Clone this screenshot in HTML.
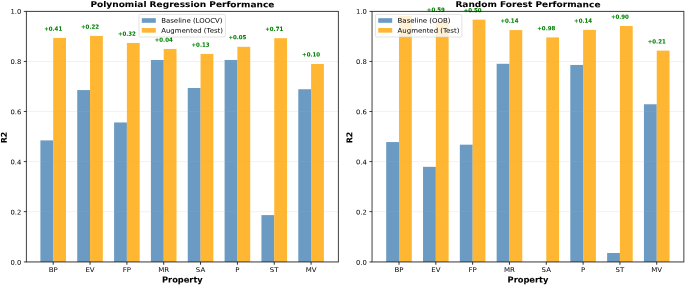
<!DOCTYPE html>
<html><head><meta charset="utf-8"><title>chart</title>
<style>html,body{margin:0;padding:0;background:#fff}svg{display:block}</style></head>
<body>
<svg width="685" height="285" viewBox="0 0 685 285" text-rendering="geometricPrecision" font-family='"DejaVu Sans","Liberation Sans",sans-serif'>
<rect width="685" height="285" fill="#fff"/>
<rect x="40.40" y="140.40" width="12.80" height="121.55" fill="#4682b4" fill-opacity="0.8"/>
<rect x="53.20" y="37.93" width="12.80" height="224.02" fill="#ffa500" fill-opacity="0.8"/>
<rect x="77.24" y="90.07" width="12.80" height="171.88" fill="#4682b4" fill-opacity="0.8"/>
<rect x="90.04" y="35.93" width="12.80" height="226.02" fill="#ffa500" fill-opacity="0.8"/>
<rect x="114.08" y="122.46" width="12.80" height="139.49" fill="#4682b4" fill-opacity="0.8"/>
<rect x="126.88" y="42.94" width="12.80" height="219.01" fill="#ffa500" fill-opacity="0.8"/>
<rect x="150.92" y="59.96" width="12.80" height="201.99" fill="#4682b4" fill-opacity="0.8"/>
<rect x="163.72" y="48.95" width="12.80" height="213.00" fill="#ffa500" fill-opacity="0.8"/>
<rect x="187.76" y="87.99" width="12.80" height="173.96" fill="#4682b4" fill-opacity="0.8"/>
<rect x="200.56" y="53.95" width="12.80" height="208.00" fill="#ffa500" fill-opacity="0.8"/>
<rect x="224.60" y="59.96" width="12.80" height="201.99" fill="#4682b4" fill-opacity="0.8"/>
<rect x="237.40" y="46.82" width="12.80" height="215.13" fill="#ffa500" fill-opacity="0.8"/>
<rect x="261.44" y="215.09" width="12.80" height="46.86" fill="#4682b4" fill-opacity="0.8"/>
<rect x="274.24" y="38.18" width="12.80" height="223.77" fill="#ffa500" fill-opacity="0.8"/>
<rect x="298.28" y="89.24" width="12.80" height="172.71" fill="#4682b4" fill-opacity="0.8"/>
<rect x="311.08" y="63.96" width="12.80" height="197.99" fill="#ffa500" fill-opacity="0.8"/>
<line x1="26.4" x2="338.4" y1="261.70" y2="261.70" stroke="#b0b0b0" stroke-opacity="0.3" stroke-width="0.55"/>
<line x1="26.4" x2="338.4" y1="211.64" y2="211.64" stroke="#b0b0b0" stroke-opacity="0.3" stroke-width="0.55"/>
<line x1="26.4" x2="338.4" y1="161.58" y2="161.58" stroke="#b0b0b0" stroke-opacity="0.3" stroke-width="0.55"/>
<line x1="26.4" x2="338.4" y1="111.52" y2="111.52" stroke="#b0b0b0" stroke-opacity="0.3" stroke-width="0.55"/>
<line x1="26.4" x2="338.4" y1="61.46" y2="61.46" stroke="#b0b0b0" stroke-opacity="0.3" stroke-width="0.55"/>
<line x1="26.4" x2="338.4" y1="11.40" y2="11.40" stroke="#b0b0b0" stroke-opacity="0.3" stroke-width="0.55"/>
<text transform="translate(53.20,30.73) rotate(0.03) scale(0.957,1)" font-size="5.7" text-anchor="middle" font-weight="bold" fill="#008000" stroke="#008000" stroke-width="0.04">+0.41</text>
<text transform="translate(90.04,28.73) rotate(0.03) scale(0.957,1)" font-size="5.7" text-anchor="middle" font-weight="bold" fill="#008000" stroke="#008000" stroke-width="0.04">+0.22</text>
<text transform="translate(126.88,35.74) rotate(0.03) scale(0.957,1)" font-size="5.7" text-anchor="middle" font-weight="bold" fill="#008000" stroke="#008000" stroke-width="0.04">+0.32</text>
<text transform="translate(163.72,41.75) rotate(0.03) scale(0.957,1)" font-size="5.7" text-anchor="middle" font-weight="bold" fill="#008000" stroke="#008000" stroke-width="0.04">+0.04</text>
<text transform="translate(200.56,46.75) rotate(0.03) scale(0.957,1)" font-size="5.7" text-anchor="middle" font-weight="bold" fill="#008000" stroke="#008000" stroke-width="0.04">+0.13</text>
<text transform="translate(237.40,39.22) rotate(0.03) scale(0.957,1)" font-size="5.7" text-anchor="middle" font-weight="bold" fill="#008000" stroke="#008000" stroke-width="0.04">+0.05</text>
<text transform="translate(274.24,30.98) rotate(0.03) scale(0.957,1)" font-size="5.7" text-anchor="middle" font-weight="bold" fill="#008000" stroke="#008000" stroke-width="0.04">+0.71</text>
<text transform="translate(311.08,56.56) rotate(0.03) scale(0.957,1)" font-size="5.7" text-anchor="middle" font-weight="bold" fill="#008000" stroke="#008000" stroke-width="0.04">+0.10</text>
<rect x="26.4" y="11.4" width="312.00" height="250.55" fill="none" stroke="#000" stroke-opacity="0.75" stroke-width="1"/>
<line x1="23.80" x2="26.4" y1="261.95" y2="261.95" stroke="#000" stroke-opacity="0.75" stroke-width="1"/>
<text transform="translate(21.30,264.85) rotate(0.03) scale(1.05,1)" font-size="6.5" text-anchor="end" font-weight="normal" fill="#000" stroke="#000" stroke-width="0">0.0</text>
<line x1="23.80" x2="26.4" y1="211.64" y2="211.64" stroke="#000" stroke-opacity="0.75" stroke-width="1"/>
<text transform="translate(21.30,214.49) rotate(0.03) scale(1.05,1)" font-size="6.5" text-anchor="end" font-weight="normal" fill="#000" stroke="#000" stroke-width="0">0.2</text>
<line x1="23.80" x2="26.4" y1="161.58" y2="161.58" stroke="#000" stroke-opacity="0.75" stroke-width="1"/>
<text transform="translate(21.30,164.38) rotate(0.03) scale(1.05,1)" font-size="6.5" text-anchor="end" font-weight="normal" fill="#000" stroke="#000" stroke-width="0">0.4</text>
<line x1="23.80" x2="26.4" y1="111.52" y2="111.52" stroke="#000" stroke-opacity="0.75" stroke-width="1"/>
<text transform="translate(21.30,114.27) rotate(0.03) scale(1.05,1)" font-size="6.5" text-anchor="end" font-weight="normal" fill="#000" stroke="#000" stroke-width="0">0.6</text>
<line x1="23.80" x2="26.4" y1="61.46" y2="61.46" stroke="#000" stroke-opacity="0.75" stroke-width="1"/>
<text transform="translate(21.30,64.06) rotate(0.03) scale(1.05,1)" font-size="6.5" text-anchor="end" font-weight="normal" fill="#000" stroke="#000" stroke-width="0">0.8</text>
<line x1="23.80" x2="26.4" y1="11.40" y2="11.40" stroke="#000" stroke-opacity="0.75" stroke-width="1"/>
<text transform="translate(21.30,13.85) rotate(0.03) scale(1.05,1)" font-size="6.5" text-anchor="end" font-weight="normal" fill="#000" stroke="#000" stroke-width="0">1.0</text>
<line x1="53.20" x2="53.20" y1="261.95" y2="264.75" stroke="#000" stroke-opacity="0.8" stroke-width="1"/>
<text transform="translate(53.20,271.90) rotate(0.03) scale(1.08,1)" font-size="6.5" text-anchor="middle" font-weight="normal" fill="#000" stroke="#000" stroke-width="0">BP</text>
<line x1="90.04" x2="90.04" y1="261.95" y2="264.75" stroke="#000" stroke-opacity="0.8" stroke-width="1"/>
<text transform="translate(90.04,271.90) rotate(0.03) scale(1.08,1)" font-size="6.5" text-anchor="middle" font-weight="normal" fill="#000" stroke="#000" stroke-width="0">EV</text>
<line x1="126.88" x2="126.88" y1="261.95" y2="264.75" stroke="#000" stroke-opacity="0.8" stroke-width="1"/>
<text transform="translate(126.88,271.90) rotate(0.03) scale(1.08,1)" font-size="6.5" text-anchor="middle" font-weight="normal" fill="#000" stroke="#000" stroke-width="0">FP</text>
<line x1="163.72" x2="163.72" y1="261.95" y2="264.75" stroke="#000" stroke-opacity="0.8" stroke-width="1"/>
<text transform="translate(163.72,271.90) rotate(0.03) scale(1.08,1)" font-size="6.5" text-anchor="middle" font-weight="normal" fill="#000" stroke="#000" stroke-width="0">MR</text>
<line x1="200.56" x2="200.56" y1="261.95" y2="264.75" stroke="#000" stroke-opacity="0.8" stroke-width="1"/>
<text transform="translate(200.56,271.90) rotate(0.03) scale(1.08,1)" font-size="6.5" text-anchor="middle" font-weight="normal" fill="#000" stroke="#000" stroke-width="0">SA</text>
<line x1="237.40" x2="237.40" y1="261.95" y2="264.75" stroke="#000" stroke-opacity="0.8" stroke-width="1"/>
<text transform="translate(237.40,271.90) rotate(0.03) scale(1.08,1)" font-size="6.5" text-anchor="middle" font-weight="normal" fill="#000" stroke="#000" stroke-width="0">P</text>
<line x1="274.24" x2="274.24" y1="261.95" y2="264.75" stroke="#000" stroke-opacity="0.8" stroke-width="1"/>
<text transform="translate(274.24,271.90) rotate(0.03) scale(1.08,1)" font-size="6.5" text-anchor="middle" font-weight="normal" fill="#000" stroke="#000" stroke-width="0">ST</text>
<line x1="311.08" x2="311.08" y1="261.95" y2="264.75" stroke="#000" stroke-opacity="0.8" stroke-width="1"/>
<text transform="translate(311.08,271.90) rotate(0.03) scale(1.08,1)" font-size="6.5" text-anchor="middle" font-weight="normal" fill="#000" stroke="#000" stroke-width="0">MV</text>
<text transform="translate(182.40,282.40) rotate(0.03) scale(1.0,1)" font-size="8.25" text-anchor="middle" font-weight="bold" fill="#000" stroke="#000" stroke-width="0.05">Property</text>
<text transform="translate(182.40,7.10) rotate(0.03) scale(1.127,1)" font-size="8.0" text-anchor="middle" font-weight="bold" fill="#000" stroke="#000" stroke-width="0.05">Polynomial Regression Performance</text>
<text transform="translate(6.80,137.50) rotate(-90.03) scale(1.0,1)" font-size="7.9" text-anchor="middle" font-weight="bold" fill="#000" stroke="#000" stroke-width="0.05">R2</text>
<rect x="139.0" y="14.4" width="86.40" height="22.60" rx="1.4" fill="#fff" fill-opacity="0.8" stroke="#ccc" stroke-opacity="0.8" stroke-width="0.68"/>
<rect x="141.80" y="18.2" width="14" height="4.6" fill="#4682b4" fill-opacity="0.8"/>
<rect x="141.80" y="28.05" width="14" height="4.6" fill="#ffa500" fill-opacity="0.8"/>
<text transform="translate(161.20,22.80) rotate(0.03) scale(1.08,1)" font-size="6.45" text-anchor="start" font-weight="normal" fill="#000" stroke="#000" stroke-width="0">Baseline (LOOCV)</text>
<text transform="translate(161.20,32.65) rotate(0.03) scale(1.08,1)" font-size="6.45" text-anchor="start" font-weight="normal" fill="#000" stroke="#000" stroke-width="0">Augmented (Test)</text>
<rect x="386.20" y="142.06" width="12.80" height="119.89" fill="#4682b4" fill-opacity="0.8"/>
<rect x="399.00" y="15.91" width="12.80" height="246.04" fill="#ffa500" fill-opacity="0.8"/>
<rect x="423.02" y="166.84" width="12.80" height="95.11" fill="#4682b4" fill-opacity="0.8"/>
<rect x="435.82" y="20.91" width="12.80" height="241.04" fill="#ffa500" fill-opacity="0.8"/>
<rect x="459.84" y="144.68" width="12.80" height="117.27" fill="#4682b4" fill-opacity="0.8"/>
<rect x="472.64" y="19.66" width="12.80" height="242.29" fill="#ffa500" fill-opacity="0.8"/>
<rect x="496.66" y="63.79" width="12.80" height="198.16" fill="#4682b4" fill-opacity="0.8"/>
<rect x="509.46" y="30.05" width="12.80" height="231.90" fill="#ffa500" fill-opacity="0.8"/>
<rect x="546.28" y="37.43" width="12.80" height="224.52" fill="#ffa500" fill-opacity="0.8"/>
<rect x="570.30" y="64.96" width="12.80" height="196.99" fill="#4682b4" fill-opacity="0.8"/>
<rect x="583.10" y="29.92" width="12.80" height="232.03" fill="#ffa500" fill-opacity="0.8"/>
<rect x="607.12" y="252.99" width="12.80" height="8.96" fill="#4682b4" fill-opacity="0.8"/>
<rect x="619.92" y="25.99" width="12.80" height="235.96" fill="#ffa500" fill-opacity="0.8"/>
<rect x="643.94" y="104.26" width="12.80" height="157.69" fill="#4682b4" fill-opacity="0.8"/>
<rect x="656.74" y="50.60" width="12.80" height="211.35" fill="#ffa500" fill-opacity="0.8"/>
<line x1="372.05" x2="683.85" y1="261.70" y2="261.70" stroke="#b0b0b0" stroke-opacity="0.3" stroke-width="0.55"/>
<line x1="372.05" x2="683.85" y1="211.64" y2="211.64" stroke="#b0b0b0" stroke-opacity="0.3" stroke-width="0.55"/>
<line x1="372.05" x2="683.85" y1="161.58" y2="161.58" stroke="#b0b0b0" stroke-opacity="0.3" stroke-width="0.55"/>
<line x1="372.05" x2="683.85" y1="111.52" y2="111.52" stroke="#b0b0b0" stroke-opacity="0.3" stroke-width="0.55"/>
<line x1="372.05" x2="683.85" y1="61.46" y2="61.46" stroke="#b0b0b0" stroke-opacity="0.3" stroke-width="0.55"/>
<line x1="372.05" x2="683.85" y1="11.40" y2="11.40" stroke="#b0b0b0" stroke-opacity="0.3" stroke-width="0.55"/>
<text transform="translate(435.82,11.71) rotate(0.03) scale(0.957,1)" font-size="5.7" text-anchor="middle" font-weight="bold" fill="#008000" stroke="#008000" stroke-width="0.04">+0.59</text>
<text transform="translate(472.64,12.16) rotate(0.03) scale(0.957,1)" font-size="5.7" text-anchor="middle" font-weight="bold" fill="#008000" stroke="#008000" stroke-width="0.04">+0.50</text>
<text transform="translate(509.46,22.85) rotate(0.03) scale(0.957,1)" font-size="5.7" text-anchor="middle" font-weight="bold" fill="#008000" stroke="#008000" stroke-width="0.04">+0.14</text>
<text transform="translate(546.28,30.23) rotate(0.03) scale(0.957,1)" font-size="5.7" text-anchor="middle" font-weight="bold" fill="#008000" stroke="#008000" stroke-width="0.04">+0.98</text>
<text transform="translate(583.10,22.72) rotate(0.03) scale(0.957,1)" font-size="5.7" text-anchor="middle" font-weight="bold" fill="#008000" stroke="#008000" stroke-width="0.04">+0.14</text>
<text transform="translate(619.92,18.79) rotate(0.03) scale(0.957,1)" font-size="5.7" text-anchor="middle" font-weight="bold" fill="#008000" stroke="#008000" stroke-width="0.04">+0.90</text>
<text transform="translate(656.74,43.40) rotate(0.03) scale(0.957,1)" font-size="5.7" text-anchor="middle" font-weight="bold" fill="#008000" stroke="#008000" stroke-width="0.04">+0.21</text>
<rect x="372.05" y="11.4" width="311.80" height="250.55" fill="none" stroke="#000" stroke-opacity="0.75" stroke-width="1"/>
<line x1="369.45" x2="372.05" y1="261.95" y2="261.95" stroke="#000" stroke-opacity="0.75" stroke-width="1"/>
<text transform="translate(366.95,264.85) rotate(0.03) scale(1.05,1)" font-size="6.5" text-anchor="end" font-weight="normal" fill="#000" stroke="#000" stroke-width="0">0.0</text>
<line x1="369.45" x2="372.05" y1="211.64" y2="211.64" stroke="#000" stroke-opacity="0.75" stroke-width="1"/>
<text transform="translate(366.95,214.49) rotate(0.03) scale(1.05,1)" font-size="6.5" text-anchor="end" font-weight="normal" fill="#000" stroke="#000" stroke-width="0">0.2</text>
<line x1="369.45" x2="372.05" y1="161.58" y2="161.58" stroke="#000" stroke-opacity="0.75" stroke-width="1"/>
<text transform="translate(366.95,164.38) rotate(0.03) scale(1.05,1)" font-size="6.5" text-anchor="end" font-weight="normal" fill="#000" stroke="#000" stroke-width="0">0.4</text>
<line x1="369.45" x2="372.05" y1="111.52" y2="111.52" stroke="#000" stroke-opacity="0.75" stroke-width="1"/>
<text transform="translate(366.95,114.27) rotate(0.03) scale(1.05,1)" font-size="6.5" text-anchor="end" font-weight="normal" fill="#000" stroke="#000" stroke-width="0">0.6</text>
<line x1="369.45" x2="372.05" y1="61.46" y2="61.46" stroke="#000" stroke-opacity="0.75" stroke-width="1"/>
<text transform="translate(366.95,64.06) rotate(0.03) scale(1.05,1)" font-size="6.5" text-anchor="end" font-weight="normal" fill="#000" stroke="#000" stroke-width="0">0.8</text>
<line x1="369.45" x2="372.05" y1="11.40" y2="11.40" stroke="#000" stroke-opacity="0.75" stroke-width="1"/>
<text transform="translate(366.95,13.85) rotate(0.03) scale(1.05,1)" font-size="6.5" text-anchor="end" font-weight="normal" fill="#000" stroke="#000" stroke-width="0">1.0</text>
<line x1="399.00" x2="399.00" y1="261.95" y2="264.75" stroke="#000" stroke-opacity="0.8" stroke-width="1"/>
<text transform="translate(399.00,271.90) rotate(0.03) scale(1.08,1)" font-size="6.5" text-anchor="middle" font-weight="normal" fill="#000" stroke="#000" stroke-width="0">BP</text>
<line x1="435.82" x2="435.82" y1="261.95" y2="264.75" stroke="#000" stroke-opacity="0.8" stroke-width="1"/>
<text transform="translate(435.82,271.90) rotate(0.03) scale(1.08,1)" font-size="6.5" text-anchor="middle" font-weight="normal" fill="#000" stroke="#000" stroke-width="0">EV</text>
<line x1="472.64" x2="472.64" y1="261.95" y2="264.75" stroke="#000" stroke-opacity="0.8" stroke-width="1"/>
<text transform="translate(472.64,271.90) rotate(0.03) scale(1.08,1)" font-size="6.5" text-anchor="middle" font-weight="normal" fill="#000" stroke="#000" stroke-width="0">FP</text>
<line x1="509.46" x2="509.46" y1="261.95" y2="264.75" stroke="#000" stroke-opacity="0.8" stroke-width="1"/>
<text transform="translate(509.46,271.90) rotate(0.03) scale(1.08,1)" font-size="6.5" text-anchor="middle" font-weight="normal" fill="#000" stroke="#000" stroke-width="0">MR</text>
<line x1="546.28" x2="546.28" y1="261.95" y2="264.75" stroke="#000" stroke-opacity="0.8" stroke-width="1"/>
<text transform="translate(546.28,271.90) rotate(0.03) scale(1.08,1)" font-size="6.5" text-anchor="middle" font-weight="normal" fill="#000" stroke="#000" stroke-width="0">SA</text>
<line x1="583.10" x2="583.10" y1="261.95" y2="264.75" stroke="#000" stroke-opacity="0.8" stroke-width="1"/>
<text transform="translate(583.10,271.90) rotate(0.03) scale(1.08,1)" font-size="6.5" text-anchor="middle" font-weight="normal" fill="#000" stroke="#000" stroke-width="0">P</text>
<line x1="619.92" x2="619.92" y1="261.95" y2="264.75" stroke="#000" stroke-opacity="0.8" stroke-width="1"/>
<text transform="translate(619.92,271.90) rotate(0.03) scale(1.08,1)" font-size="6.5" text-anchor="middle" font-weight="normal" fill="#000" stroke="#000" stroke-width="0">ST</text>
<line x1="656.74" x2="656.74" y1="261.95" y2="264.75" stroke="#000" stroke-opacity="0.8" stroke-width="1"/>
<text transform="translate(656.74,271.90) rotate(0.03) scale(1.08,1)" font-size="6.5" text-anchor="middle" font-weight="normal" fill="#000" stroke="#000" stroke-width="0">MV</text>
<text transform="translate(527.95,282.40) rotate(0.03) scale(1.0,1)" font-size="8.25" text-anchor="middle" font-weight="bold" fill="#000" stroke="#000" stroke-width="0.05">Property</text>
<text transform="translate(527.95,7.10) rotate(0.03) scale(1.127,1)" font-size="8.0" text-anchor="middle" font-weight="bold" fill="#000" stroke="#000" stroke-width="0.05">Random Forest Performance</text>
<text transform="translate(352.20,137.50) rotate(-90.03) scale(1.0,1)" font-size="7.9" text-anchor="middle" font-weight="bold" fill="#000" stroke="#000" stroke-width="0.05">R2</text>
<rect x="375.4" y="14.4" width="86.50" height="22.60" rx="1.4" fill="#fff" fill-opacity="0.8" stroke="#ccc" stroke-opacity="0.8" stroke-width="0.68"/>
<rect x="378.20" y="18.2" width="14" height="4.6" fill="#4682b4" fill-opacity="0.8"/>
<rect x="378.20" y="28.05" width="14" height="4.6" fill="#ffa500" fill-opacity="0.8"/>
<text transform="translate(397.60,22.80) rotate(0.03) scale(1.08,1)" font-size="6.45" text-anchor="start" font-weight="normal" fill="#000" stroke="#000" stroke-width="0">Baseline (OOB)</text>
<text transform="translate(397.60,32.65) rotate(0.03) scale(1.08,1)" font-size="6.45" text-anchor="start" font-weight="normal" fill="#000" stroke="#000" stroke-width="0">Augmented (Test)</text>
</svg>
</body></html>
